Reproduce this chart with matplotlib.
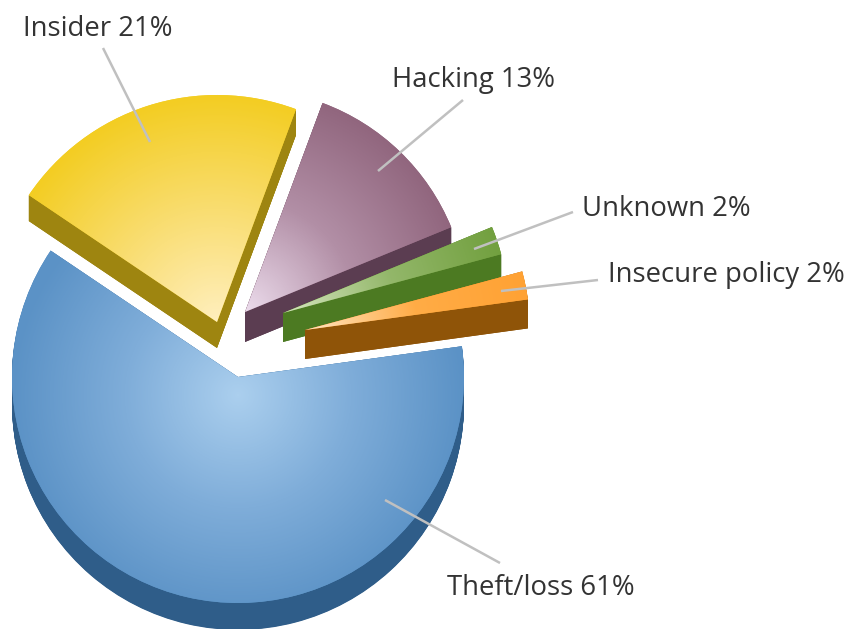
import numpy as np
import matplotlib
matplotlib.use('Agg')
import matplotlib.pyplot as plt
from matplotlib.colors import LinearSegmentedColormap
from matplotlib.patches import Wedge

W, H = 848, 629

# slices, counter clockwise from the left edge of Theft/loss
names = ['Theft/loss', 'Insecure policy', 'Unknown', 'Hacking', 'Insider']
shares = [61, 2, 2, 13, 21]

START_ANGLE = 146

# apex of each slice, in image pixels (y down)
apex = [(238, 377), (305, 330), (283, 313), (245, 312), (217, 322)]
radii = [226, 225, 226, 223, 227]
depth = [27, 29, 29, 30, 26]
# where the highlight of each gradient sits, relative to the apex
glow_shift = [(0, 18), (0, 0), (0, 0), (0, 0), (0, 0)]
gradients = [
    ['#abcfee', '#7fadd9', '#5b92c6'],
    ['#ffe6c4', '#ffac46', '#ffa234'],
    ['#d6e6c0', '#93b76a', '#72a03f'],
    ['#ecdcec', '#b28fa6', '#91667e'],
    ['#ffefbe', '#f9dd70', '#f3cd22'],
]
side_colors = ['#2f5d89', '#8f5408', '#4c7a22', '#5b3d51', '#9e8510']
# back to front
layer = [5, 4, 3, 2, 1]

# label text, its left edge and middle height, then the leader line ends
labels = ['Theft/loss 61%', 'Insecure policy 2%', 'Unknown 2%', 'Hacking 13%', 'Insider 21%']
label_pos = [(447, 588), (608, 275), (582, 209), (392, 80), (23, 29)]
leaders = [
    ((500, 563), (385, 500)),
    ((598, 280), (501, 291)),
    ((573, 212), (474, 249)),
    ((463, 100), (378, 171)),
    ((103, 48), (150, 142)),
]


def flip(y):
    return H - y


plt.rcParams['font.family'] = ['Open Sans', 'DejaVu Sans']
fig = plt.figure(figsize=(W / 100, H / 100), dpi=100)
ax = fig.add_axes([0, 0, 1, 1])

wedges, _ = ax.pie(shares, startangle=START_ANGLE, radius=radii[0], center=(W / 2, H / 2))

xx, yy = np.meshgrid(np.arange(W) + 0.5, np.arange(H) + 0.5)

for i, wedge in enumerate(wedges):
    cx, cy = apex[i]
    r = radii[i]
    wedge.set_center((cx, flip(cy)))
    wedge.set_radius(r)
    wedge.set_facecolor(gradients[i][-1])
    wedge.set_zorder(layer[i] * 10 + 1)

    # extruded side, lots of shifted copies of the slice for the rim
    for d in np.arange(1, depth[i] + 0.5, 0.5):
        ax.add_patch(Wedge((cx, flip(cy + d)), r, wedge.theta1, wedge.theta2,
                           fc=side_colors[i], ec='none', zorder=layer[i] * 10))
    # and the two straight cut faces, the thin slices fade out at the tip without them
    for theta in (wedge.theta1, wedge.theta2):
        ex = cx + r * np.cos(np.radians(theta))
        ey = flip(cy) + r * np.sin(np.radians(theta))
        ax.fill([cx, ex, ex, cx], [flip(cy), ey, ey - depth[i], flip(cy) - depth[i]],
                color=side_colors[i], lw=0, zorder=layer[i] * 10)

    # radial gradient on the top face
    gx, gy = glow_shift[i]
    dist = np.hypot(xx - cx - gx, yy - cy - gy) / r
    cmap = LinearSegmentedColormap.from_list(names[i], gradients[i])
    im = ax.imshow(np.clip(dist, 0, 1), cmap=cmap, vmin=0, vmax=1, extent=(0, W, 0, H),
                   origin='upper', interpolation='bilinear', zorder=layer[i] * 10 + 2)
    im.set_clip_path(wedge)

for (x0, y0), (x1, y1) in leaders:
    ax.plot([x0, x1], [flip(y0), flip(y1)], color='#c0c0c0', lw=1.8, zorder=100,
            solid_capstyle='butt')

for txt, (x, y) in zip(labels, label_pos):
    ax.text(x, flip(y), txt, fontsize=19.8, color='#333333', ha='left', va='center', zorder=101)

ax.set_xlim(0, W)
ax.set_ylim(0, H)
ax.set_aspect('auto')
ax.axis('off')

fig.savefig('out.png', dpi=100, facecolor='white')
